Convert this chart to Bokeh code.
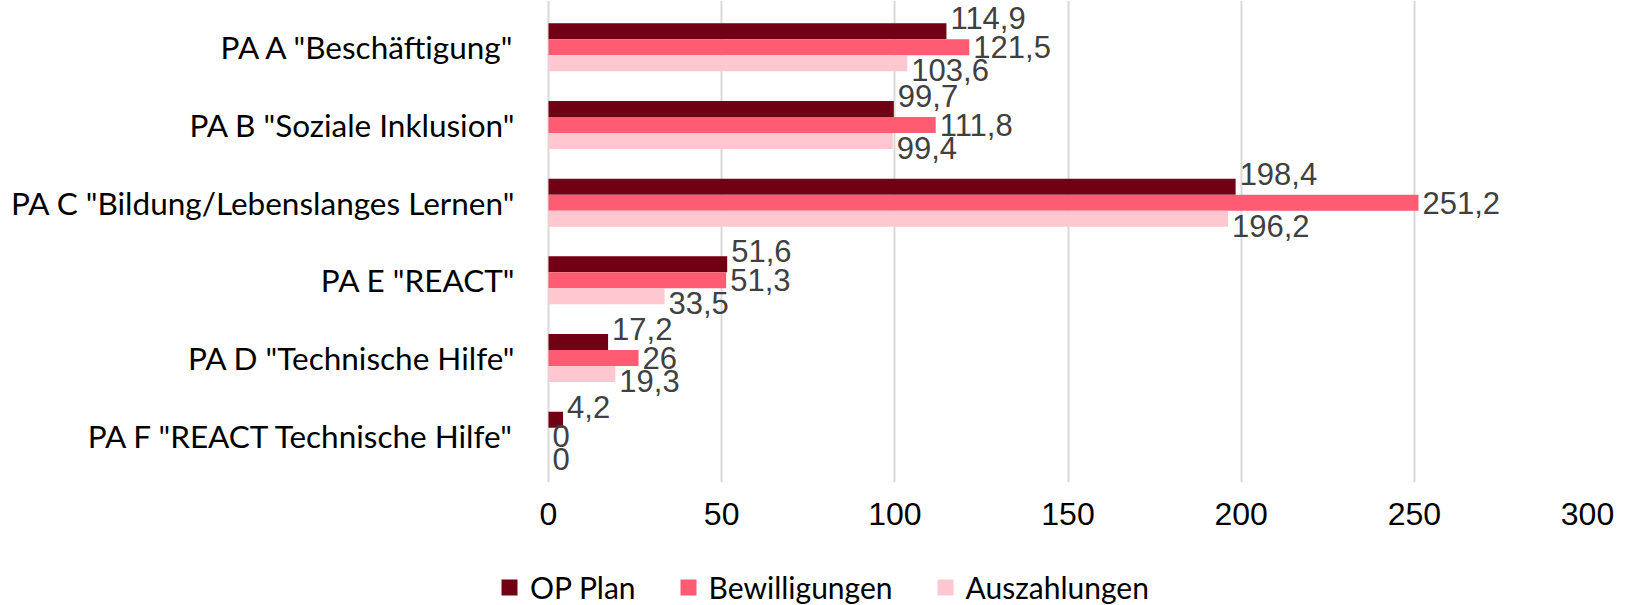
from bokeh.plotting import figure
from bokeh.models import ColumnDataSource, FactorRange, Legend, LegendItem, FixedTicker
from bokeh.layouts import column
from bokeh.transform import dodge
from bokeh.core.properties import value
from bokeh.embed import file_html
from bokeh.resources import INLINE

categories = ['PA A "Beschäftigung"', 'PA B "Soziale Inklusion"',
              'PA C "Bildung/Lebenslanges Lernen"', 'PA E "REACT"',
              'PA D "Technische Hilfe"', 'PA F "REACT Technische Hilfe"']
op_plan = [114.9, 99.7, 198.4, 51.6, 17.2, 4.2]
bewilligungen = [121.5, 111.8, 251.2, 51.3, 26, 0]
auszahlungen = [103.6, 99.4, 196.2, 33.5, 19.3, 0]
series_names = ["OP Plan", "Bewilligungen", "Auszahlungen"]
x_ticks = [0, 50, 100, 150, 200, 250, 300]

colors = ["#720014", "#FF5C73", "#FFC7D0"]
offsets = [0.206, 0.0, -0.206]
label_dy = [-13, 0, 7]
cols = ["op", "bew", "ausz"]


def fmt(v):
    s = ("%.1f" % v).replace(".", ",")
    return s[:-2] if s.endswith(",0") else s


src = ColumnDataSource(dict(
    cat=categories,
    op=op_plan, bew=bewilligungen, ausz=auszahlungen,
    op_l=[fmt(v) for v in op_plan],
    bew_l=[fmt(v) for v in bewilligungen],
    ausz_l=[fmt(v) for v in auszahlungen],
))

# frame starts a little left of the value 0 so that the legend strip below can start there
p = figure(width=1628, height=550, output_backend="svg", toolbar_location=None,
           y_range=FactorRange(factors=list(reversed(categories)), range_padding=0.0344),
           x_range=(-14.15, 300),
           min_border_left=499, min_border_right=41, min_border_top=0, min_border_bottom=68)
p.outline_line_color = None
p.background_fill_color = "white"
p.border_fill_color = "white"

for col, c, off, dy in zip(cols, colors, offsets, label_dy):
    p.hbar(y=dodge("cat", off, range=p.y_range), right=col, left=0, height=0.206,
           source=src, fill_color=c, line_color=None)
    p.text(x=col, y=dodge("cat", off, range=p.y_range), text=col + "_l", source=src,
           x_offset=4, y_offset=dy, text_baseline="middle", text_align="left",
           text_font=value("Liberation Sans"), text_font_size="31px", text_color="#404040")

p.xgrid.grid_line_color = "#D9D9D9"
p.xgrid.grid_line_width = 2
p.ygrid.grid_line_color = None
p.xaxis.ticker = FixedTicker(ticks=x_ticks)
p.xaxis.axis_line_color = None
p.xaxis.major_tick_line_color = None
p.xaxis.minor_tick_line_color = None
p.xaxis.major_label_text_font = "Liberation Sans"
p.xaxis.major_label_text_font_size = "32px"
p.xaxis.major_label_text_color = "#000000"
p.xaxis.major_label_standoff = 14

p.yaxis.axis_line_color = None
p.yaxis.major_tick_line_color = None
p.yaxis.minor_tick_line_color = None
p.yaxis.major_label_text_font = "Lato"
p.yaxis.major_label_text_font_size = "31.5px"
p.yaxis.major_label_text_color = "#000000"
p.yaxis.major_label_standoff = -22

# legend strip (its frame is aligned with the chart frame by the column layout)
lg = figure(width=1628, height=55, output_backend="svg", toolbar_location=None,
            x_range=(-1000, -999), y_range=(0, 1),
            min_border_left=0, min_border_right=0, min_border_top=0, min_border_bottom=0)
lg.axis.visible = False
lg.grid.visible = False
lg.outline_line_color = None
lg.border_fill_color = "white"
lg.background_fill_color = "white"
keys = [lg.hbar(y=-5, left=0, right=col, height=0, source=src, fill_color=c, line_color=None)
        for col, c in zip(cols, colors)]
legend = Legend(items=[LegendItem(label=n, renderers=[r]) for n, r in zip(series_names, keys)],
                orientation="horizontal", location=(0, 0),
                label_text_font="Lato", label_text_font_size="30px", label_text_color="#000000",
                glyph_width=20, glyph_height=20, label_standoff=11, spacing=42,
                padding=0, margin=0, border_line_color=None, background_fill_alpha=0,
                label_height=20, label_text_baseline="middle")
lg.add_layout(legend, "center")

open("out.html", "w").write(file_html(column(p, lg, spacing=0), INLINE))
